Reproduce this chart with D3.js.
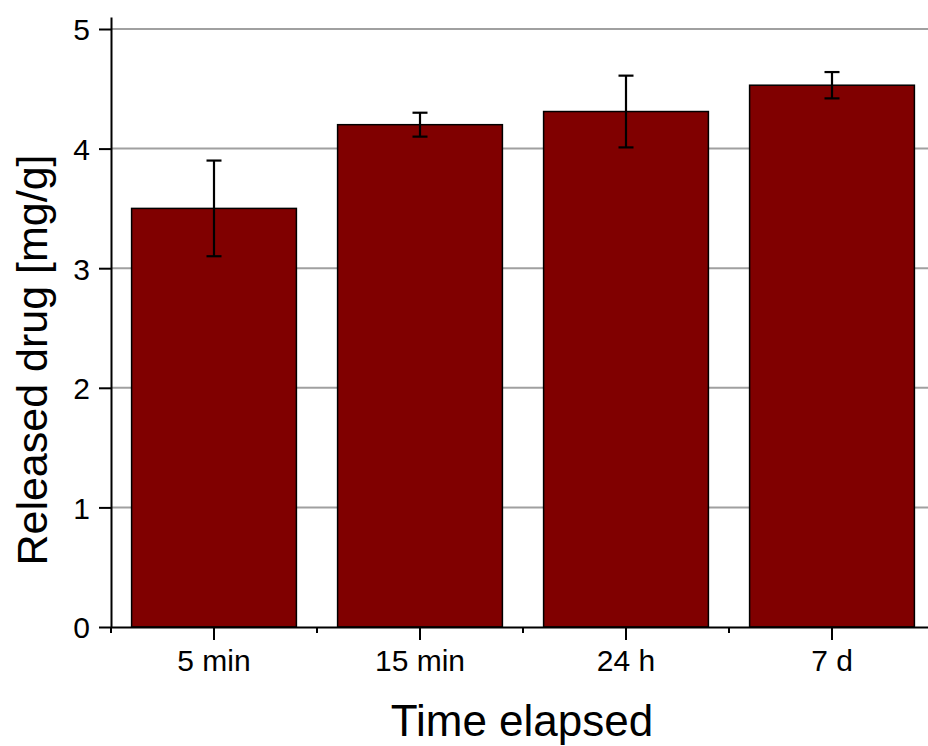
<!DOCTYPE html>
<html>
<head>
<meta charset="utf-8">
<script src="https://cdn.jsdelivr.net/npm/d3@7"></script>
<style>
  body { margin: 0; background: #fff; }
  svg { display: block; font-family: "Liberation Sans", Arial, sans-serif; }
</style>
</head>
<body>
<svg width="928" height="746"></svg>
<script>
// data
const categories = ['5 min', '15 min', '24 h', '7 d'];
const released = [3.5, 4.2, 4.31, 4.53];
const errors = [0.4, 0.1, 0.3, 0.11];
const yTicks = [0, 1, 2, 3, 4, 5];

const svg = d3.select('svg');

// plot area (right side runs past the window like the original)
const x0 = 111, x1 = 935;
const yBottom = 627, unit = 119.6;

const xScale = d3.scaleBand()
    .domain(categories)
    .range([x0, x1])
    .paddingInner(0.2)
    .paddingOuter(0.1);

const yScale = d3.scaleLinear()
    .domain([0, 5.1])
    .range([yBottom, yBottom - 5.1 * unit]);

// grid lines
svg.append('g')
    .selectAll('line')
    .data(yTicks.filter(d => d > 0))
    .join('line')
    .attr('x1', x0)
    .attr('x2', x1)
    .attr('y1', d => yScale(d))
    .attr('y2', d => yScale(d))
    .attr('stroke', '#a0a0a0')
    .attr('stroke-width', 2);

// bars
svg.append('g')
    .selectAll('rect')
    .data(categories)
    .join('rect')
    .attr('x', d => xScale(d))
    .attr('width', xScale.bandwidth())
    .attr('y', (d, i) => yScale(released[i]))
    .attr('height', (d, i) => yScale(0) - yScale(released[i]))
    .attr('fill', '#800000')
    .attr('stroke', '#000')
    .attr('stroke-width', 1.5);

// error bars
const cap = 7.5;
const err = svg.append('g')
    .attr('stroke', '#000')
    .attr('stroke-width', 2.2)
    .selectAll('g')
    .data(categories)
    .join('g')
    .attr('transform', d => 'translate(' + (xScale(d) + xScale.bandwidth() / 2) + ',0)');

err.append('line')
    .attr('y1', (d, i) => yScale(released[i] + errors[i]))
    .attr('y2', (d, i) => yScale(released[i] - errors[i]));
err.append('line')
    .attr('x1', -cap).attr('x2', cap)
    .attr('y1', (d, i) => yScale(released[i] + errors[i]))
    .attr('y2', (d, i) => yScale(released[i] + errors[i]));
err.append('line')
    .attr('x1', -cap).attr('x2', cap)
    .attr('y1', (d, i) => yScale(released[i] - errors[i]))
    .attr('y2', (d, i) => yScale(released[i] - errors[i]));

// y axis
const yAxis = svg.append('g')
    .attr('transform', 'translate(' + x0 + ',0)')
    .call(d3.axisLeft(yScale).tickValues(yTicks).tickSize(12).tickSizeOuter(0).tickPadding(9).tickFormat(d3.format('d')));
yAxis.select('.domain').attr('stroke-width', 2);
yAxis.selectAll('.tick line').attr('stroke-width', 2);
yAxis.selectAll('.tick text')
    .attr('font-size', 30)
    .attr('font-family', '"Liberation Sans", Arial, sans-serif')
    .attr('dy', '0.36em');

// x axis: major ticks at centres
const xAxis = svg.append('g')
    .attr('transform', 'translate(0,' + yBottom + ')')
    .call(d3.axisBottom(xScale).tickSize(13).tickSizeOuter(0).tickPadding(10));
xAxis.select('.domain').attr('stroke-width', 2);
xAxis.selectAll('.tick line').attr('stroke-width', 2);
xAxis.selectAll('.tick text')
    .attr('font-size', 30)
    .attr('font-family', '"Liberation Sans", Arial, sans-serif');

// minor ticks between categories
const step = xScale.step();
const minor = categories.map((d, i) => xScale(d) - xScale.paddingInner() * step / 2 - (i === 0 ? xScale.paddingOuter() * step - xScale.paddingInner() * step / 2 : 0));
svg.append('g')
    .selectAll('line')
    .data(minor)
    .join('line')
    .attr('x1', d => d).attr('x2', d => d)
    .attr('y1', yBottom).attr('y2', yBottom + 6)
    .attr('stroke', '#000')
    .attr('stroke-width', 2);

// axis titles
svg.append('text')
    .attr('x', (x0 + x1) / 2 - 1)
    .attr('y', 736)
    .attr('text-anchor', 'middle')
    .attr('font-size', 44)
    .text('Time elapsed');

svg.append('text')
    .attr('transform', 'translate(47,' + 360 + ') rotate(-90)')
    .attr('text-anchor', 'middle')
    .attr('font-size', 43)
    .text('Released drug [mg/g]');
</script>
</body>
</html>
